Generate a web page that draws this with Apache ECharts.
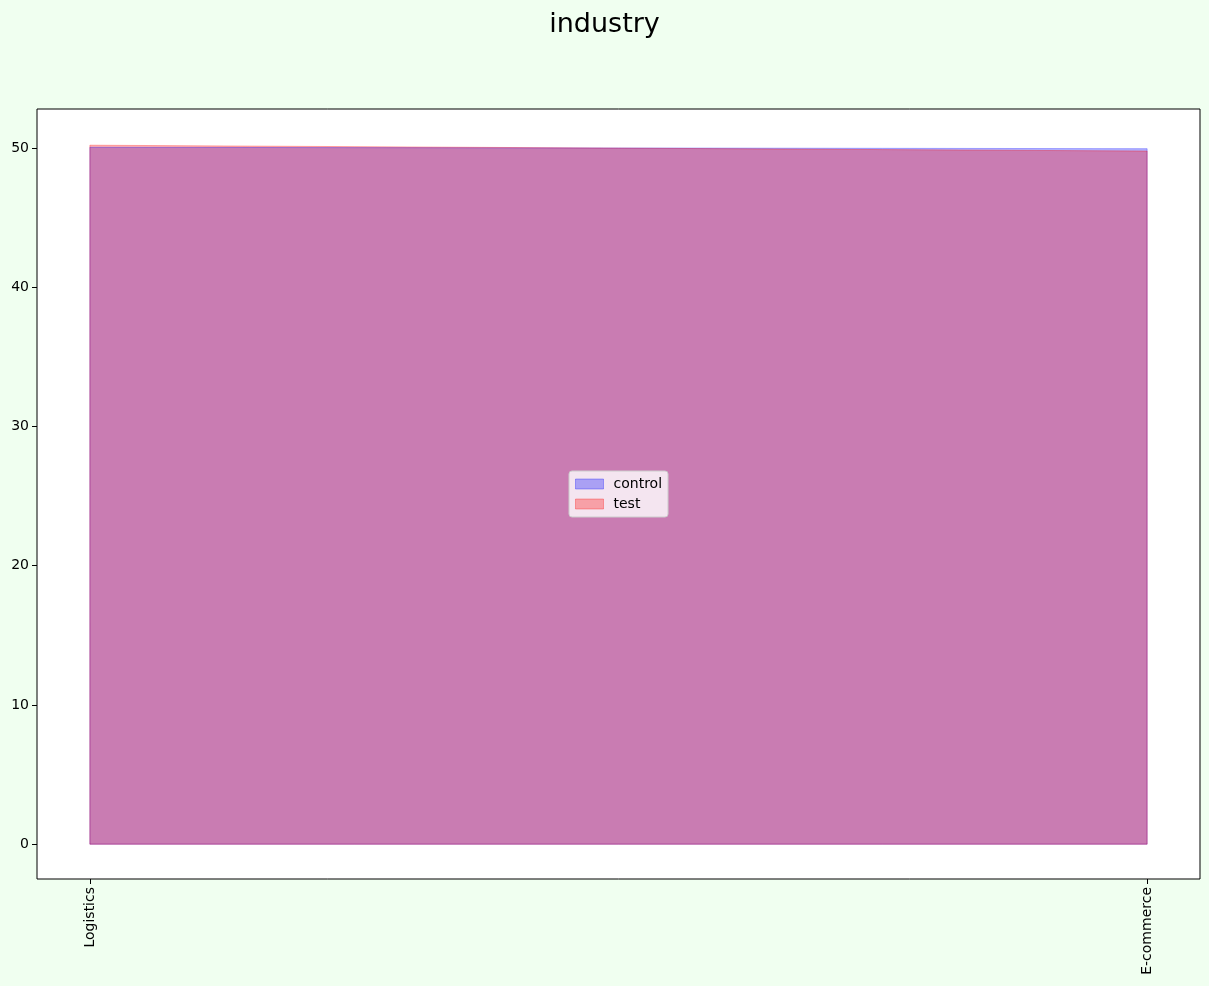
<!DOCTYPE html>
<html>
<head>
<meta charset="utf-8">
<script src="https://cdn.jsdelivr.net/npm/echarts@6/dist/echarts.min.js"></script>
<style>
  html, body { margin: 0; padding: 0; background: #f0fff0; }
  #container { width: 1209px; height: 986px; }
</style>
</head>
<body>
<div id="container"></div>
<script>
var categories = ['Logistics', 'E-commerce'];
var controlValues = [50.05, 49.95];
var testValues = [50.2, 49.78];
var yTicks = [0, 10, 20, 30, 40, 50];

// closed outline like fill_between: baseline -> values -> baseline
function outline(values) {
    var pts = [[0, 0]];
    for (var i = 0; i < values.length; i++) {
        pts.push([i, values[i]]);
    }
    pts.push([values.length - 1, 0]);
    pts.push([0, 0]);
    return pts;
}

var xTicks = categories.map(function (c, i) { return i; });

var myChart = echarts.init(document.getElementById('container'));
var option = {
    backgroundColor: '#f0fff0',
    animation: false,
    title: {
        text: 'industry',
        left: 'center',
        top: 6,
        textStyle: { fontFamily: 'DejaVu Sans', fontSize: 27, fontWeight: 'normal', color: '#000' }
    },
    legend: {
        left: 569,
        top: 471,
        orient: 'vertical',
        itemWidth: 28,
        itemHeight: 10,
        itemGap: 6,
        padding: [6, 6, 6, 6],
        backgroundColor: 'rgba(255,255,255,0.8)',
        borderColor: '#cccccc',
        borderWidth: 1,
        borderRadius: 3,
        textStyle: { fontFamily: 'DejaVu Sans', fontSize: 14, color: '#000', padding: [0, 0, 0, 5] },
        data: [
            { name: 'control', icon: 'rect', itemStyle: { color: 'rgba(0,0,255,0.3)', borderColor: 'rgba(0,0,255,0.3)', borderWidth: 1 } },
            { name: 'test', icon: 'rect', itemStyle: { color: 'rgba(255,0,0,0.3)', borderColor: 'rgba(255,0,0,0.3)', borderWidth: 1 } }
        ]
    },
    grid: {
        left: 37,
        right: 9,
        top: 109,
        bottom: 107,
        show: true,
        backgroundColor: '#ffffff',
        borderColor: '#000000',
        borderWidth: 1,
        containLabel: false
    },
    xAxis: {
        type: 'value',
        min: -0.05,
        max: 1.05,
        splitLine: { show: false },
        axisLine: { show: false, onZero: false },
        axisTick: { show: true, length: 5, inside: false, customValues: xTicks, lineStyle: { color: '#000' } },
        axisLabel: {
            customValues: xTicks,
            rotate: 90,
            margin: 8,
            fontFamily: 'DejaVu Sans',
            fontSize: 14,
            color: '#000',
            formatter: function (v) { return categories[Math.round(v)] || ''; }
        }
    },
    yAxis: {
        type: 'value',
        min: -2.5,
        max: 52.8,
        splitLine: { show: false },
        axisLine: { show: false, onZero: false },
        axisTick: { show: true, length: 5, inside: false, customValues: yTicks, lineStyle: { color: '#000' } },
        axisLabel: {
            customValues: yTicks,
            margin: 8,
            fontFamily: 'DejaVu Sans',
            fontSize: 14,
            color: '#000'
        }
    },
    series: [{
        name: 'control',
        type: 'line',
        showSymbol: false,
        symbol: 'none',
        data: outline(controlValues),
        itemStyle: { color: 'rgba(0,0,255,0.3)' },
        lineStyle: { color: 'rgba(0,0,255,0.3)', width: 1 },
        areaStyle: { color: 'rgba(0,0,255,0.3)', opacity: 1, origin: 'auto' }
    }, {
        name: 'test',
        type: 'line',
        showSymbol: false,
        symbol: 'none',
        data: outline(testValues),
        itemStyle: { color: 'rgba(255,0,0,0.3)' },
        lineStyle: { color: 'rgba(255,0,0,0.3)', width: 1 },
        areaStyle: { color: 'rgba(255,0,0,0.3)', opacity: 1, origin: 'auto' }
    }]
};
myChart.setOption(option);
</script>
</body>
</html>
